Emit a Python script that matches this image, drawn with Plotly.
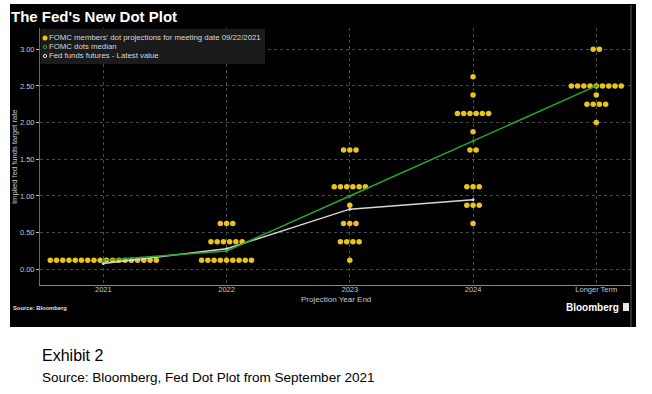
import plotly.graph_objects as go

# ---------------- data ----------------
categories = ["2021", "2022", "2023", "2024", "Longer Term"]

# FOMC participant dots: rate levels and number of dots at each level, per category
rates_2021 = [0.125]
counts_2021 = [18]
rates_2022 = [0.125, 0.375, 0.625]
counts_2022 = [9, 6, 3]
rates_2023 = [0.125, 0.375, 0.625, 0.875, 1.125, 1.625]
counts_2023 = [1, 4, 3, 1, 6, 3]
rates_2024 = [0.625, 0.875, 1.125, 1.625, 1.875, 2.125, 2.375, 2.625]
counts_2024 = [1, 3, 3, 2, 1, 6, 1, 1]
rates_longer = [2.0, 2.25, 2.375, 2.5, 3.0]
counts_longer = [1, 4, 1, 9, 2]

median_values = [0.125, 0.25, 1.0, 1.75, 2.5]
futures_categories = ["2021", "2022", "2023", "2024"]
futures_values = [0.08, 0.28, 0.82, 0.95]

y_tick_values = [0.0, 0.5, 1.0, 1.5, 2.0, 2.5, 3.0]

# ---------------- layout helpers ----------------
W, H = 652, 394
PL, PR, PT, PB = 40, 631, 28, 285  # plot area in pixels


def px2x(px):
    return (px - PL) / (PR - PL)


def py2y(py):
    return (PB - py) / (PB - PT)


DOT_COLOR = "#e8c41c"
GREEN = "#2aa52a"
WHITE_LINE = "#d6d6d6"
DOT_STEP = 0.0506

all_rates = [rates_2021, rates_2022, rates_2023, rates_2024, rates_longer]
all_counts = [counts_2021, counts_2022, counts_2023, counts_2024, counts_longer]

dot_x, dot_y = [], []
for ci, (rs, cs) in enumerate(zip(all_rates, all_counts)):
    for r, n in zip(rs, cs):
        for j in range(n):
            dot_x.append(ci + (j - (n - 1) / 2) * DOT_STEP)
            dot_y.append(r)

cat_index = {c: i for i, c in enumerate(categories)}

fig = go.Figure()

fig.add_trace(go.Scatter(
    x=dot_x, y=dot_y, mode="markers",
    marker=dict(size=5.5, color=DOT_COLOR, line=dict(width=0)),
    name="FOMC members' dot projections for meeting date 09/22/2021",
    showlegend=False, hoverinfo="skip"))

fig.add_trace(go.Scatter(
    x=[cat_index[c] for c in futures_categories], y=futures_values,
    mode="lines+markers",
    line=dict(color=WHITE_LINE, width=1.5),
    marker=dict(size=3, color=WHITE_LINE),
    name="Fed funds futures - Latest value", showlegend=False))

fig.add_trace(go.Scatter(
    x=list(range(len(categories))), y=median_values,
    mode="lines+markers",
    line=dict(color=GREEN, width=1.5),
    marker=dict(size=3, color=GREEN),
    name="FOMC dots median", showlegend=False))

shapes = []
# black chart panel
shapes.append(dict(type="rect", xref="paper", yref="paper",
                   x0=px2x(10), x1=px2x(636), y0=py2y(327), y1=py2y(4),
                   fillcolor="black", line=dict(width=0), layer="below"))
# right border line
shapes.append(dict(type="line", xref="paper", yref="paper",
                   x0=px2x(631), x1=px2x(631), y0=py2y(327), y1=py2y(5),
                   line=dict(color="#5a5a5a", width=1)))
# legend box
shapes.append(dict(type="rect", xref="paper", yref="paper",
                   x0=px2x(40.5), x1=px2x(265), y0=py2y(64), y1=py2y(29),
                   fillcolor="#1b1b1b", line=dict(width=0)))
# legend symbols
leg_rows = [38, 47, 56]
shapes.append(dict(type="circle", xref="paper", yref="paper",
                   xsizemode="pixel", ysizemode="pixel",
                   xanchor=px2x(45), yanchor=py2y(leg_rows[0]),
                   x0=-2.5, x1=2.5, y0=-2.5, y1=2.5,
                   fillcolor=DOT_COLOR, line=dict(width=0)))
shapes.append(dict(type="circle", xref="paper", yref="paper",
                   xsizemode="pixel", ysizemode="pixel",
                   xanchor=px2x(45), yanchor=py2y(leg_rows[1]),
                   x0=-1.6, x1=1.6, y0=-1.6, y1=1.6,
                   line=dict(color=GREEN, width=1)))
shapes.append(dict(type="circle", xref="paper", yref="paper",
                   xsizemode="pixel", ysizemode="pixel",
                   xanchor=px2x(45), yanchor=py2y(leg_rows[2]),
                   x0=-1.6, x1=1.6, y0=-1.6, y1=1.6,
                   line=dict(color="#e0e0e0", width=1)))
# Bloomberg logo square
shapes.append(dict(type="rect", xref="paper", yref="paper",
                   x0=px2x(623), x1=px2x(629), y0=py2y(311), y1=py2y(303),
                   fillcolor="#e8e8e8", line=dict(width=0)))

FONT = "Liberation Sans"
ann = []


def text(px, py, s, size, color, xanchor="left", bold=False, angle=0, family=FONT):
    ann.append(dict(xref="paper", yref="paper", x=px2x(px), y=py2y(py),
                    text=f"<b>{s}</b>" if bold else s, showarrow=False,
                    xanchor=xanchor, yanchor="middle", textangle=angle,
                    font=dict(size=size, color=color, family=family)))


text(9, 17, "The Fed's New Dot Plot", 15, "white", bold=True)
legend_labels = ["FOMC members' dot projections for meeting date 09/22/2021",
                 "FOMC dots median", "Fed funds futures - Latest value"]
for row, lab in zip(leg_rows, legend_labels):
    text(47, row, lab, 7.8, "#d8d8d8")
text(14, 157, "Implied fed funds target rate", 7.6, "#c8c8c8", xanchor="center", angle=-90)
text(335.5, 299, "Projection Year End", 8, "#c8c8c8", xanchor="center")
text(11, 308, "Source: Bloomberg", 5.8, "#e0e0e0", bold=True)
text(621, 307, "Bloomberg", 10, "white", xanchor="right", bold=True)
text(40, 355, "Exhibit 2", 16, "black")
text(40, 377, "Source: Bloomberg, Fed Dot Plot from September 2021", 13.5, "black")

fig.update_layout(
    width=W, height=H,
    margin=dict(l=PL, r=W - PR, t=PT, b=H - PB, pad=0),
    paper_bgcolor="white", plot_bgcolor="black",
    shapes=shapes, annotations=ann, showlegend=False,
    xaxis=dict(range=[-0.5136, 4.2816], tickvals=list(range(len(categories))),
               ticktext=categories, showgrid=True, gridcolor="#4a4a4a", griddash="dot",
               gridwidth=1, zeroline=False, showline=True, linecolor="#8a8a8a",
               linewidth=1, ticks="", ticklabelstandoff=-3,
               tickfont=dict(size=7.5, color="#c8c8c8", family=FONT),
               fixedrange=True),
    yaxis=dict(range=[-0.214, 3.29], tickvals=y_tick_values, tickformat=".2f",
               showgrid=True, gridcolor="#4a4a4a", griddash="dot", gridwidth=1,
               zeroline=False, showline=True, linecolor="#6a6a6a", linewidth=1,
               ticks="outside", ticklen=3, tickcolor="#bbbbbb", tickwidth=1,
               tickfont=dict(size=7.5, color="#c8c8c8", family=FONT), fixedrange=True),
)

fig.write_html("out.html", config={"displayModeBar": False},
               post_script="document.body.style.margin='0';document.body.style.padding='0';")
